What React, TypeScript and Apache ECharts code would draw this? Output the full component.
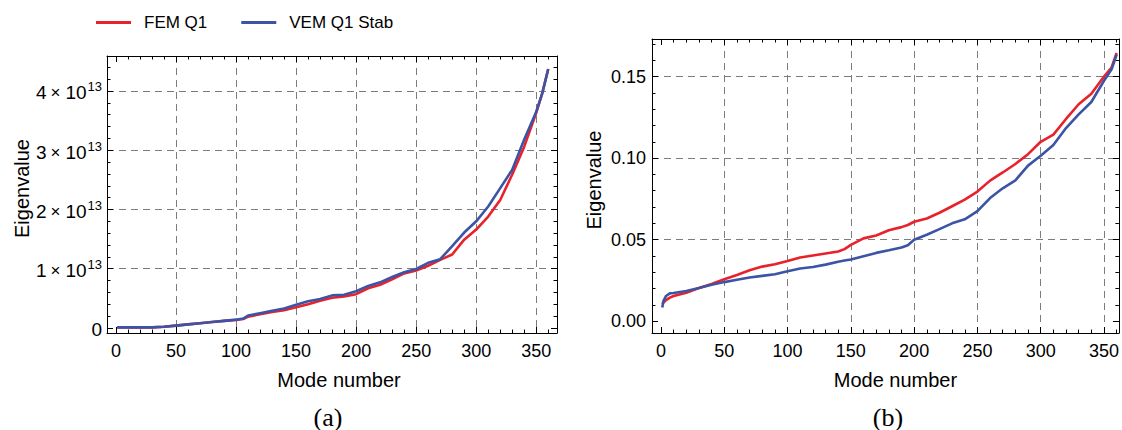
import React, { useEffect, useRef } from 'react';
import * as echarts from 'echarts';

// ---------- data ----------
const seriesNames = ['FEM Q1', 'VEM Q1 Stab'];
const seriesColors = ['#E8212B', '#3B54A5'];

// (a) eigenvalues, in units of 10^13
const EXP_A = 13;
const modesA = [1, 10, 20, 30, 40, 50, 60, 70, 80, 90, 100, 106, 110, 120, 130, 140, 150, 160, 170, 180, 190, 200, 210, 220, 230, 240, 250, 260, 270, 280, 290, 300, 310, 320, 330, 340, 350, 355, 360];
const femA = [0.01, 0.01, 0.01, 0.01, 0.02, 0.04, 0.06, 0.08, 0.10, 0.12, 0.135, 0.15, 0.19, 0.23, 0.27, 0.30, 0.35, 0.40, 0.46, 0.51, 0.53, 0.57, 0.67, 0.73, 0.82, 0.92, 0.97, 1.05, 1.15, 1.24, 1.49, 1.66, 1.88, 2.16, 2.59, 3.06, 3.63, 3.96, 4.37];
const vemA = [0.01, 0.01, 0.01, 0.01, 0.02, 0.04, 0.06, 0.08, 0.10, 0.12, 0.14, 0.16, 0.21, 0.25, 0.29, 0.33, 0.39, 0.45, 0.49, 0.55, 0.56, 0.62, 0.71, 0.77, 0.86, 0.94, 0.995, 1.10, 1.16, 1.38, 1.61, 1.80, 2.05, 2.36, 2.67, 3.18, 3.65, 3.96, 4.37];

// (b) eigenvalues
const modesB = [1, 2, 4, 7, 10, 20, 30, 40, 50, 60, 70, 80, 90, 100, 110, 120, 130, 140, 145, 150, 160, 170, 180, 190, 195, 200, 210, 220, 230, 240, 250, 260, 270, 280, 290, 300, 310, 320, 330, 340, 350, 356, 360];
const femB = [0.0105, 0.0115, 0.0130, 0.0145, 0.0155, 0.0175, 0.0204, 0.0228, 0.0258, 0.0284, 0.0313, 0.0335, 0.0349, 0.0369, 0.0391, 0.0403, 0.0415, 0.0427, 0.0442, 0.0468, 0.0508, 0.0526, 0.0558, 0.0577, 0.0590, 0.0610, 0.0630, 0.0665, 0.0705, 0.0745, 0.0795, 0.0862, 0.0912, 0.0964, 0.1024, 0.1100, 0.1144, 0.1240, 0.1330, 0.1395, 0.1500, 0.1555, 0.1644];
const vemB = [0.0085, 0.0125, 0.0155, 0.0171, 0.0173, 0.0185, 0.0204, 0.0224, 0.0240, 0.0254, 0.0268, 0.0278, 0.0288, 0.0306, 0.0323, 0.0333, 0.0347, 0.0365, 0.0372, 0.0379, 0.0399, 0.0419, 0.0435, 0.0452, 0.0466, 0.0500, 0.0530, 0.0565, 0.0600, 0.0625, 0.0675, 0.0755, 0.0815, 0.0864, 0.0954, 0.1014, 0.1080, 0.1184, 0.1268, 0.1344, 0.1474, 0.1544, 0.1634];

// ticks
const xTicks = [0, 50, 100, 150, 200, 250, 300, 350];
const xGridLines = [50, 100, 150, 200, 250, 300, 350];
const xMinorTicks = [0, 10, 20, 30, 40, 50, 60, 70, 80, 90, 100, 110, 120, 130, 140, 150, 160, 170, 180, 190, 200, 210, 220, 230, 240, 250, 260, 270, 280, 290, 300, 310, 320, 330, 340, 350, 360];
const yTicksA = [0, 1, 2, 3, 4];
const yGridLinesA = [1, 2, 3, 4];
const yMinorTicksA = [0, 0.2, 0.4, 0.6, 0.8, 1, 1.2, 1.4, 1.6, 1.8, 2, 2.2, 2.4, 2.6, 2.8, 3, 3.2, 3.4, 3.6, 3.8, 4, 4.2, 4.4];
const yTicksB = [0, 0.05, 0.1, 0.15];
const yGridLinesB = [0.05, 0.1, 0.15];
const yMinorTicksB = [0, 0.01, 0.02, 0.03, 0.04, 0.05, 0.06, 0.07, 0.08, 0.09, 0.1, 0.11, 0.12, 0.13, 0.14, 0.15, 0.16, 0.17];

const FONT = "'Liberation Sans', Arial, Helvetica, sans-serif";
const SERIF = "'Liberation Serif', 'Times New Roman', serif";
const SCALE_A = Math.pow(10, EXP_A);

function axisSet(
  dim: 'x' | 'y',
  gridIndex: number,
  min: number,
  max: number,
  major: number[],
  minor: number[],
  grid: number[],
  label: any,
  name: string,
  nameGap: number,
  namePad: number[]
) {
  const sideA = dim === 'x' ? 'bottom' : 'left';
  const sideB = dim === 'x' ? 'top' : 'right';
  const base = () => ({
    type: 'value',
    gridIndex,
    min,
    max,
    axisLine: { show: false, onZero: false },
    axisLabel: { show: false },
    axisTick: { show: false },
    splitLine: { show: false },
    minorTick: { show: false },
    minorSplitLine: { show: false },
  });
  const line = { show: true, onZero: false, lineStyle: { color: '#000', width: 1 } };
  const tk = (vals: number[], len: number) => ({
    show: true,
    inside: true,
    length: len,
    customValues: vals,
    lineStyle: { color: '#000', width: 1 },
  });
  return [
    {
      ...base(),
      position: sideA,
      axisLine: line,
      axisTick: tk(major, 6),
      axisLabel: { ...label, customValues: major },
      name,
      nameLocation: 'middle',
      nameGap,
      nameTextStyle: { fontSize: 20, color: '#000', fontFamily: FONT, padding: namePad },
    },
    { ...base(), position: sideA, axisTick: tk(minor, 3.5) },
    { ...base(), position: sideB, axisLine: line, axisTick: tk(major, 6) },
    { ...base(), position: sideB, axisTick: tk(minor, 3.5) },
    {
      ...base(),
      position: sideA,
      axisTick: { show: false, customValues: grid },
      splitLine: { show: true, lineStyle: { color: '#7c7c7c', width: 1, type: [7, 5] } },
    },
  ];
}

export default function App() {
  const ref = useRef<HTMLDivElement>(null);
  useEffect(() => {
    document.body.style.margin = '0';
    const chart = echarts.init(ref.current!, null, { renderer: 'svg' });

    const xLabel = { show: true, margin: 9, fontSize: 18, color: '#000', fontFamily: FONT };
    const yLabelA = {
      show: true,
      margin: 5,
      color: '#000',
      fontFamily: FONT,
      fontSize: 18,
      formatter: (v: number) => {
        const k = Math.round(v / SCALE_A);
        return k === 0 ? '{m|0}' : `{m|${k}}{x|×}{m|10}{s|${EXP_A}}`;
      },
      rich: {
        m: { fontSize: 19, fontFamily: FONT, color: '#000', padding: [4, 0, 0, 0] },
        x: { fontSize: 17, fontFamily: FONT, color: '#000', padding: [4, 5, 0, 4] },
        s: { fontSize: 13, fontFamily: FONT, color: '#000', padding: [0, 0, 8, 1] },
      },
    };
    const yLabelB = {
      show: true,
      margin: 6,
      fontSize: 18,
      color: '#000',
      fontFamily: FONT,
      formatter: (v: number) => v.toFixed(2),
    };

    const xA = axisSet('x', 0, -7.5, 367.3, xTicks, xMinorTicks, xGridLines, xLabel, 'Mode number', 37, [0, 0, 0, 14]);
    const xB = axisSet('x', 1, -7.1, 361.8, xTicks, xMinorTicks, xGridLines, xLabel, 'Mode number', 37, [0, 0, 0, 20]);
    const yA = axisSet('y', 0, -0.085 * SCALE_A, 4.59 * SCALE_A,
      yTicksA.map((v) => v * SCALE_A), yMinorTicksA.map((v) => v * SCALE_A), yGridLinesA.map((v) => v * SCALE_A),
      yLabelA, 'Eigenvalue', 71, [0, 0, 0, 12]);
    const yB = axisSet('y', 1, -0.0072, 0.173, yTicksB, yMinorTicksB, yGridLinesB, yLabelB, 'Eigenvalue', 48, [0, 0, 0, 12]);

    const mk = (name: string, color: string, xi: number, yi: number, modes: number[], vals: number[], scale: number) => ({
      name,
      type: 'line',
      xAxisIndex: xi,
      yAxisIndex: yi,
      data: modes.map((m, i) => [m, vals[i] * scale]),
      showSymbol: false,
      symbol: 'none',
      lineStyle: { color, width: 2.6 },
      itemStyle: { color },
      z: 5,
    });

    chart.setOption({
      animation: false,
      backgroundColor: '#fff',
      legend: {
        left: 91,
        top: 9,
        icon: 'rect',
        itemWidth: 35,
        itemHeight: 3,
        itemGap: 34,
        data: seriesNames,
        textStyle: { fontSize: 17, color: '#000', fontFamily: FONT, padding: [0, 0, 0, 8] },
      },
      grid: [
        { left: 107, top: 56, width: 450, height: 277, containLabel: false },
        { left: 652, top: 39, width: 469, height: 294, containLabel: false },
      ],
      xAxis: [...xA, ...xB],
      yAxis: [...yA, ...yB],
      series: [
        mk(seriesNames[0], seriesColors[0], 0, 0, modesA, femA, SCALE_A),
        mk(seriesNames[1], seriesColors[1], 0, 0, modesA, vemA, SCALE_A),
        mk(seriesNames[0], seriesColors[0], 5, 5, modesB, femB, 1),
        mk(seriesNames[1], seriesColors[1], 5, 5, modesB, vemB, 1),
      ],
      graphic: [
        {
          type: 'text',
          x: 328,
          y: 404,
          style: { text: '(a)', fontSize: 26, fontFamily: SERIF, fill: '#000', align: 'center', verticalAlign: 'top' },
        },
        {
          type: 'text',
          x: 888,
          y: 404,
          style: { text: '(b)', fontSize: 26, fontFamily: SERIF, fill: '#000', align: 'center', verticalAlign: 'top' },
        },
      ],
    });
    return () => chart.dispose();
  }, []);
  return <div ref={ref} style={{ position: 'absolute', left: 0, top: 0, width: 1122, height: 430 }} />;
}
